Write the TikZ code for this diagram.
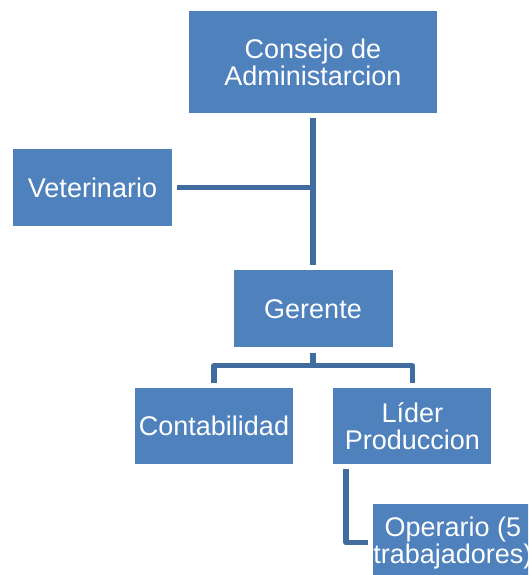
\documentclass[tikz,border=0pt]{standalone}
\usepackage{fontspec}
\setmainfont{Liberation Sans}
\usepackage{xcolor}
\usetikzlibrary{positioning}
\definecolor{boxblue}{HTML}{4F81BD}
\definecolor{lineblue}{HTML}{406C9F}
\tikzset{
  orgbox/.style={fill=boxblue, text=white, align=center, inner sep=0pt,
    minimum width=159pt, minimum height=77pt,
    font=\fontsize{27}{27}\selectfont},
  topbox/.style={orgbox, minimum width=248pt, minimum height=102pt},
  link/.style={draw=lineblue, line width=5.5pt, line join=round},
}

\begin{document}
\begin{tikzpicture}[x=1pt, y=-1pt, node distance=40pt and 40pt]
  \useasboundingbox (0,0) rectangle (528,575);
  \clip (0,0) rectangle (528,575);

  \node[topbox] (consejo) at (313,62) {Consejo de\\Administarcion};
  \node[orgbox] (vet) at (92.5,187.5) {Veterinario};
  \node[orgbox, below=157pt of consejo] (gerente) {Gerente};
  \node[orgbox, minimum width=158pt, minimum height=76pt,
        below=40pt of gerente, xshift=-99pt] (conta) {Contabilidad};
  \node[orgbox, minimum width=158pt, minimum height=76pt,
        right=of conta] (lider) {L\'ider\\Produccion};
  \node[orgbox, below=of lider, xshift=40.5pt] (oper) {Operario (5\\trabajadores)};

  \draw[link, shorten <=5pt, shorten >=5pt] (consejo.south) -- (gerente.north);
  \draw[link, shorten <=5pt] (vet.east) -- (vet.east -| consejo.south);
  \draw[link, shorten <=5pt, shorten >=5pt] (gerente.south) -- ++(0,18) -| (conta.north);
  \draw[link, shorten >=5pt] (gerente.south) ++(0,18) -| (lider.north);
  \draw[link, shorten <=5pt, shorten >=5pt] ([xshift=13pt]lider.south west) |- (oper.west);
\end{tikzpicture}
\end{document}
